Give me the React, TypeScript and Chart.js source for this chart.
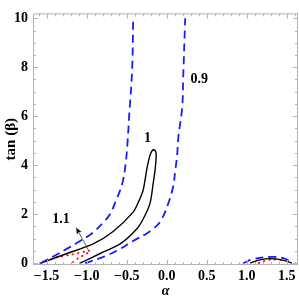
import { useEffect, useRef } from 'react';
import { Chart, registerables } from 'chart.js';

Chart.register(...registerables);

// ---- data ----
// 0.9 contour, left branch
const blueLeftAlpha = [-1.571, -1.394, -1.244, -1.081, -0.931, -0.806, -0.706, -0.644, -0.581, -0.544, -0.515, -0.492, -0.469, -0.431, -0.419];
const blueLeftTanB = [0, 0.31, 0.59, 0.90, 1.22, 1.61, 2.0, 2.47, 2.98, 3.4, 4.0, 4.8, 6.0, 7.96, 10.0];
// 0.9 contour, right branch
const blueRightAlpha = [-1.019, -0.831, -0.619, -0.419, -0.244, -0.181, -0.081, 0.019, 0.081, 0.106, 0.131, 0.144, 0.194, 0.206, 0.231];
const blueRightTanB = [0, 0.2, 0.51, 0.90, 1.22, 1.37, 1.69, 2.43, 3.14, 3.76, 4.43, 5.1, 6.39, 7.57, 10.0];
// 0.9 contour near alpha ~ 1.3
const blueArcAlpha = [0.956, 1.081, 1.294, 1.456, 1.571];
const blueArcTanB = [0, 0.16, 0.25, 0.2, 0.02];
// 1 contour (closed loop)
const blackAlpha = [-1.571, -1.244, -0.919, -0.669, -0.419, -0.356, -0.294, -0.244, -0.206, -0.181, -0.169, -0.144, -0.131, -0.144, -0.169, -0.206, -0.281, -0.369, -0.581, -0.831, -1.081];
const blackTanB = [0, 0.39, 0.78, 1.29, 2.08, 2.47, 2.98, 3.92, 4.43, 4.59, 4.63, 4.59, 4.43, 3.84, 3.25, 2.47, 1.88, 1.41, 0.78, 0.39, 0];
// 1 contour near alpha ~ 1.3
const blackArcAlpha = [1.044, 1.15, 1.294, 1.45, 1.565];
const blackArcTanB = [0, 0.12, 0.18, 0.12, 0];
// 1.1 contour (closed)
const redAlpha = [-1.571, -1.369, -1.181, -1.019, -0.956, -0.981, -1.044, -1.106, -1.169];
const redTanB = [0, 0.24, 0.35, 0.47, 0.51, 0.43, 0.31, 0.2, 0.04];
// 1.1 contour near alpha ~ 1.3
const redArcAlpha = [1.15, 1.26, 1.377, 1.48];
const redArcTanB = [0, 0.12, 0.14, 0.08];

// tick values
const xTickValues = [-1.5, -1.0, -0.5, 0.0, 0.5, 1.0, 1.5];
const yTickValues = [0, 2, 4, 6, 8, 10];

// curve labels
const labelTexts = ['0.9', '1', '1.1'];
const labelAlpha = [0.406, -0.24, -1.32];
const labelTanB = [7.49, 5.11, 1.8];
// arrow from the 1.1 region to its label
const arrowAlpha = [-0.981, -1.131];
const arrowTanB = [0.55, 1.45];

const FONT = "'Liberation Serif', 'Times New Roman', serif";

const pts = (a: number[], b: number[]) => a.map((v, i) => ({ x: v, y: b[i] }));

const framePlugin = {
  id: 'frameTicks',
  afterDatasetsDraw(chart: any) {
    const { ctx, chartArea, scales } = chart;
    const { left, right, top, bottom } = chartArea;
    const xs = scales.x;
    const ys = scales.y;
    ctx.save();
    ctx.strokeStyle = '#b4b4b4';
    ctx.lineWidth = 1;
    ctx.strokeRect(left + 0.5, top + 0.5, right - left - 1, bottom - top - 1);
    ctx.beginPath();
    // x ticks (major 0.5, minor 0.1)
    for (let i = -16; i <= 16; i++) {
      const v = i / 10;
      const px = Math.round(xs.getPixelForValue(v)) + 0.5;
      if (px < left || px > right) continue;
      const len = i % 5 === 0 ? 5 : 3;
      ctx.moveTo(px, bottom);
      ctx.lineTo(px, bottom - len);
      ctx.moveTo(px, top);
      ctx.lineTo(px, top + len);
    }
    // y ticks (major 2, minor 0.5)
    for (let i = 0; i <= 20; i++) {
      const v = i / 2;
      const py = Math.round(ys.getPixelForValue(v)) + 0.5;
      if (py < top || py > bottom) continue;
      const len = i % 4 === 0 ? 5 : 3;
      ctx.moveTo(left, py);
      ctx.lineTo(left + len, py);
      ctx.moveTo(right, py);
      ctx.lineTo(right - len, py);
    }
    ctx.stroke();

    // curve labels
    ctx.fillStyle = '#000';
    ctx.font = `bold 14px ${FONT}`;
    ctx.textAlign = 'center';
    ctx.textBaseline = 'middle';
    labelTexts.forEach((t, i) => {
      ctx.fillText(t, xs.getPixelForValue(labelAlpha[i]), ys.getPixelForValue(labelTanB[i]));
    });

    // arrow
    const x0 = xs.getPixelForValue(arrowAlpha[0]);
    const y0 = ys.getPixelForValue(arrowTanB[0]);
    const x1 = xs.getPixelForValue(arrowAlpha[1]);
    const y1 = ys.getPixelForValue(arrowTanB[1]);
    const ang = Math.atan2(y1 - y0, x1 - x0);
    const hl = 7;
    ctx.strokeStyle = '#333';
    ctx.lineWidth = 0.8;
    ctx.beginPath();
    ctx.moveTo(x0, y0);
    ctx.lineTo(x1 - Math.cos(ang) * hl * 0.8, y1 - Math.sin(ang) * hl * 0.8);
    ctx.stroke();
    ctx.fillStyle = '#111';
    ctx.beginPath();
    ctx.moveTo(x1, y1);
    ctx.lineTo(x1 - hl * Math.cos(ang - 0.4), y1 - hl * Math.sin(ang - 0.4));
    ctx.lineTo(x1 - hl * 0.75 * Math.cos(ang), y1 - hl * 0.75 * Math.sin(ang));
    ctx.lineTo(x1 - hl * Math.cos(ang + 0.4), y1 - hl * Math.sin(ang + 0.4));
    ctx.closePath();
    ctx.fill();
    ctx.restore();
  },
};

const fmtX = (v: number) => {
  const s = Number(v).toFixed(1);
  return s.startsWith('-') ? '\u2212' + s.slice(1) : s;
};

export default function App() {
  const ref = useRef<HTMLCanvasElement | null>(null);
  useEffect(() => {
    if (!ref.current) return;
    const blue = '#1a1aff';
    const base = { showLine: true, pointRadius: 0, fill: false, tension: 0.4 };
    const chart = new Chart(ref.current, {
      type: 'scatter',
      data: {
        datasets: [
          { ...base, data: pts(blueLeftAlpha, blueLeftTanB), borderColor: blue, borderWidth: 1.8, borderDash: [8, 5] },
          { ...base, data: pts(blueRightAlpha, blueRightTanB), borderColor: blue, borderWidth: 1.8, borderDash: [8, 5] },
          { ...base, data: pts(blueArcAlpha, blueArcTanB), borderColor: blue, borderWidth: 1.8, borderDash: [8, 5] },
          { ...base, data: pts(blackAlpha, blackTanB), borderColor: '#000', borderWidth: 1.4, tension: 0.25 },
          { ...base, data: pts(blackArcAlpha, blackArcTanB), borderColor: '#000', borderWidth: 1.4 },
          { ...base, data: pts(redAlpha, redTanB), borderColor: '#ff1a1a', borderWidth: 2, borderDash: [0.5, 5], borderCapStyle: 'round', tension: 0.2 },
          { ...base, data: pts(redArcAlpha, redArcTanB), borderColor: '#ff1a1a', borderWidth: 2, borderDash: [0.5, 5], borderCapStyle: 'round' },
        ] as any,
      },
      options: {
        animation: false,
        responsive: true,
        maintainAspectRatio: false,
        layout: { padding: { top: 3, right: 1, left: 0, bottom: 0 } },
        plugins: { legend: { display: false }, tooltip: { enabled: false } },
        scales: {
          x: {
            type: 'linear',
            min: -1.67,
            max: 1.64,
            afterBuildTicks: (s: any) => {
              s.ticks = xTickValues.map((v) => ({ value: v }));
            },
            afterFit: (s: any) => {
              s.height = 37;
            },
            grid: { display: false, drawTicks: false, tickLength: 0 },
            border: { display: false },
            ticks: {
              autoSkip: false,
              maxRotation: 0,
              padding: 3,
              color: '#000',
              font: { family: FONT, weight: 'bold', size: 14 },
              callback: (v: any) => fmtX(Number(v)),
            },
            title: {
              display: true,
              text: 'α',
              color: '#000',
              padding: { top: 0, bottom: 2 },
              font: { family: FONT, style: 'italic', weight: 'bold', size: 14 },
            },
          },
          y: {
            type: 'linear',
            min: -0.08,
            max: 10.2,
            afterBuildTicks: (s: any) => {
              s.ticks = yTickValues.map((v) => ({ value: v }));
            },
            afterFit: (s: any) => {
              s.width = 33;
            },
            grid: { display: false, drawTicks: false, tickLength: 0 },
            border: { display: false },
            ticks: {
              autoSkip: false,
              padding: 5,
              color: '#000',
              font: { family: FONT, weight: 'bold', size: 14 },
              callback: (v: any) => String(v),
            },
            title: {
              display: true,
              text: 'tan (β)',
              color: '#000',
              padding: { top: 2, bottom: 0 },
              font: { family: FONT, weight: 'bold', size: 15 },
            },
          },
        },
      } as any,
      plugins: [framePlugin],
    });
    return () => chart.destroy();
  }, []);
  return (
    <div style={{ position: 'absolute', left: 0, top: 0, width: 299, height: 302, background: '#fff' }}>
      <canvas ref={ref} />
    </div>
  );
}
